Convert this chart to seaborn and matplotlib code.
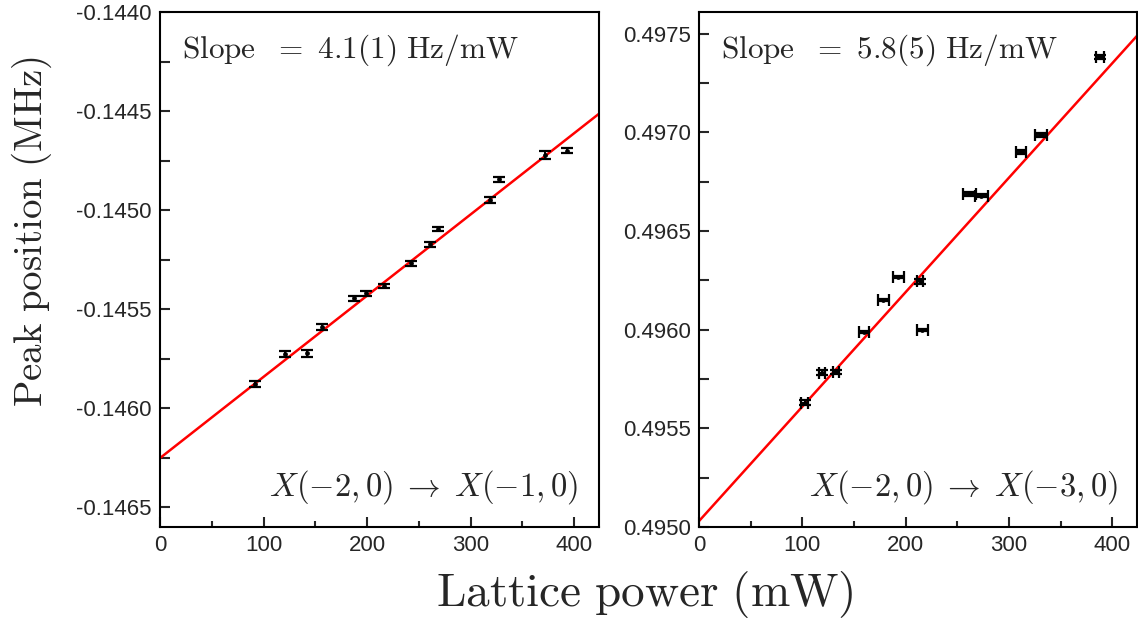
import numpy as np
import pandas as pd
import matplotlib
matplotlib.use("Agg")
import matplotlib.pyplot as plt
import seaborn as sns
from matplotlib.ticker import MultipleLocator

# ---------------- data ----------------
# Left panel: X(-2,0) -> X(-1,0)
left_power = [91.8, 120.8, 141.7, 156.2, 187.8, 198.7, 216.7, 242.5, 261.2, 268.9,
              318.8, 327.8, 372.0, 393.5]
left_peak = [-0.145880, -0.145727, -0.145724, -0.145589, -0.145446, -0.145421, -0.145382,
             -0.145269, -0.145173, -0.145096, -0.144949, -0.144845, -0.144722, -0.144700]
left_peak_err = [0.000015, 0.000015, 0.000018, 0.000015, 0.000013, 0.000012, 0.000010,
                 0.000012, 0.000013, 0.000010, 0.000017, 0.000013, 0.000018, 0.000013]
left_slope = 4.1e-6       # MHz / mW
left_intercept = -0.146252

# Right panel: X(-2,0) -> X(-3,0)
right_power = [102.2, 119.2, 132.7, 160.0, 178.6, 193.1, 213.7, 216.3, 261.9, 273.4,
               312.0, 331.3, 388.2]
right_power_err = [3.0, 3.0, 3.0, 5.0, 5.0, 5.0, 3.0, 5.0, 6.0, 6.0, 5.0, 6.0, 4.0]
right_peak = [0.495629, 0.495781, 0.495786, 0.495987, 0.496149, 0.496267, 0.496246,
              0.496000, 0.496688, 0.496680, 0.496899, 0.496989, 0.497380]
right_peak_err = [0.000013, 0.000013, 0.000010, 0.000004, 0.000005, 0.000005, 0.000013,
                  0.000005, 0.000010, 0.000008, 0.000010, 0.000010, 0.000010]
right_slope = 5.8e-6
right_intercept = 0.495030

left_ylim = (-0.14660, -0.14400)
right_ylim = (0.49500, 0.49761)
x_lim = (0, 424)

slope_texts = [r"$\mathrm{Slope}\ \ =\ 4.1(1)\ \mathrm{Hz/mW}$",
               r"$\mathrm{Slope}\ \ =\ 5.8(5)\ \mathrm{Hz/mW}$"]
trans_texts = [r"$X(-2,0)\;\rightarrow\;X(-1,0)$",
               r"$X(-2,0)\;\rightarrow\;X(-3,0)$"]

# ---------------- style ----------------
sns.set_theme(style="ticks")
plt.rcParams["font.family"] = ["Liberation Sans", "DejaVu Sans"]
plt.rcParams["mathtext.fontset"] = "cm"
plt.rcParams["axes.linewidth"] = 1.5

fig = plt.figure(figsize=(11.38, 6.22), dpi=100)
axL = fig.add_axes([160 / 1138, 95 / 622, 439 / 1138, 515 / 622])
axR = fig.add_axes([699 / 1138, 95 / 622, 438 / 1138, 515 / 622])

panels = [
    (axL, left_power, left_peak, None, left_peak_err, left_slope, left_intercept, left_ylim),
    (axR, right_power, right_peak, right_power_err, right_peak_err, right_slope,
     right_intercept, right_ylim),
]
trans_x = [0.952, 0.957]

for i, (ax, px, py, pxe, pye, slope, icpt, ylim) in enumerate(panels):
    df = pd.DataFrame({"power": px, "peak": py})
    xs = np.linspace(x_lim[0], x_lim[1], 50)
    fit = pd.DataFrame({"power": xs, "peak": icpt + slope * xs})
    sns.lineplot(data=fit, x="power", y="peak", ax=ax, color="#ff0000", lw=1.8, zorder=2)
    ax.errorbar(px, py, xerr=pxe, yerr=pye, fmt="none", ecolor="black",
                elinewidth=1.4, capsize=4.5, capthick=1.6, zorder=3)
    sns.scatterplot(data=df, x="power", y="peak", ax=ax, color="black", s=12,
                    edgecolor="black", linewidth=0, zorder=4)
    ax.set_xlim(*x_lim)
    ax.set_ylim(*ylim)
    ax.xaxis.set_major_locator(MultipleLocator(100))
    ax.xaxis.set_minor_locator(MultipleLocator(50))
    ax.yaxis.set_major_locator(MultipleLocator(0.0005))
    ax.yaxis.set_minor_locator(MultipleLocator(0.00025))
    ax.yaxis.set_major_formatter(matplotlib.ticker.FormatStrFormatter("%.4f"))
    ax.tick_params(axis="both", which="major", direction="in", length=7, width=1.5,
                   labelsize=16, pad=6)
    ax.tick_params(axis="y", which="minor", direction="in", length=7, width=1.5)
    ax.tick_params(axis="x", which="minor", direction="in", length=4, width=1.5)
    for s in ax.spines.values():
        s.set_visible(True)
        s.set_linewidth(1.5)
        s.set_color("black")
    ax.set_xlabel("")
    ax.set_ylabel("")
    ax.text(0.05, 0.926, slope_texts[i], transform=ax.transAxes, fontsize=22.5,
            ha="left", va="center")
    ax.text(trans_x[i], 0.078, trans_texts[i], transform=ax.transAxes, fontsize=23.5,
            ha="right", va="center")

fig.text(0.028, 0.627, r"$\mathrm{Peak\ position\ (MHz)}$", rotation=90,
         fontsize=28, ha="center", va="center")
fig.text(0.567, 0.045, r"$\mathrm{Lattice\ power\ (mW)}$", fontsize=34,
         ha="center", va="center")

fig.savefig("out.png", dpi=100)
